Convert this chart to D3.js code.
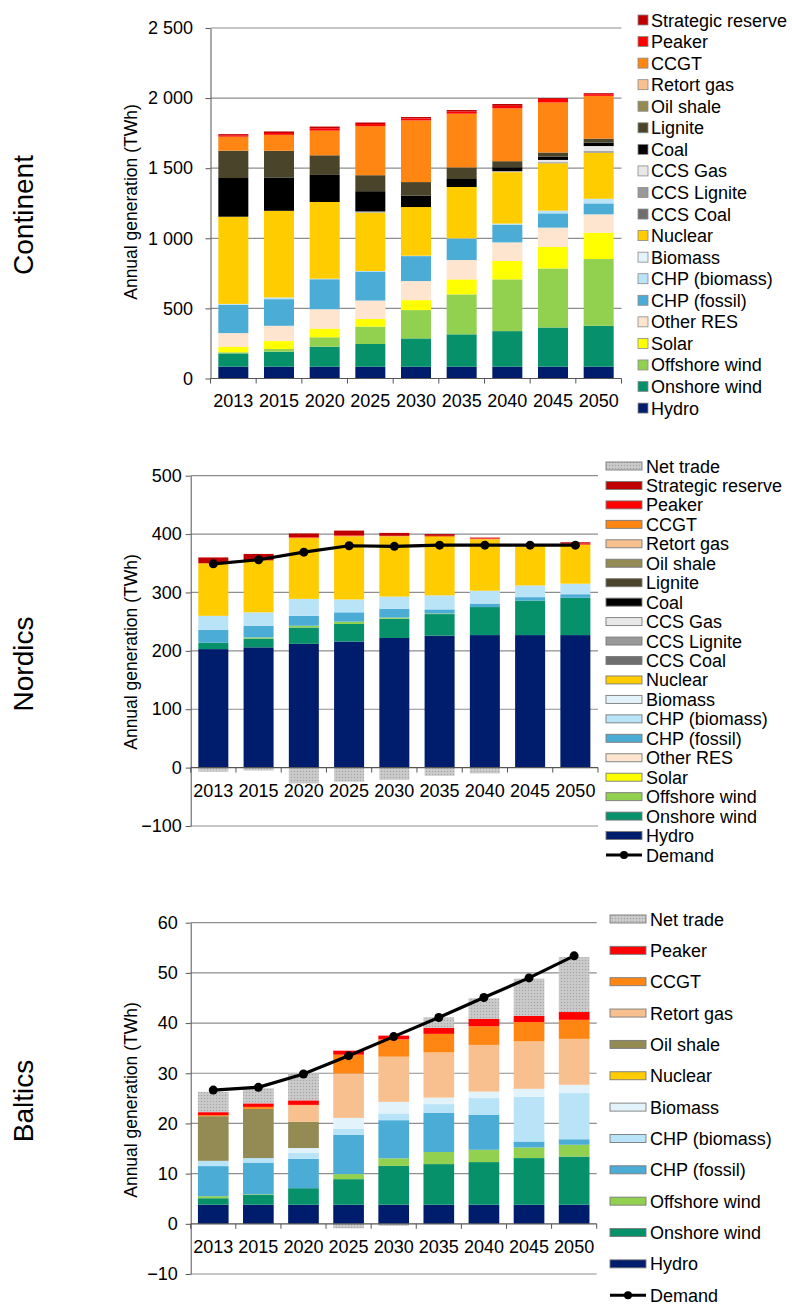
<!DOCTYPE html>
<html><head><meta charset="utf-8">
<script src="https://cdn.jsdelivr.net/npm/d3@7"></script>
<style>
body{margin:0;background:#fff}
svg text{font-family:"Liberation Sans",Arial,sans-serif;fill:#000}
</style></head>
<body><svg id="c" width="792" height="1306"></svg>
<script>
// ---------------- DATA ----------------
const years = ["2013","2015","2020","2025","2030","2035","2040","2045","2050"];

// Continent (TWh)
const contHydro      = [84,84,84,84,84,84,84,84,84];
const contOnshore    = [95,107,143,162,202,231,254,280,292];
const contOffshore   = [8,19,67,124,202,285,369,421,476];
const contSolar      = [40,57,62,55,71,107,131,155,188];
const contOtherRES   = [97,109,138,131,136,138,133,136,131];
const contCHPfossil  = [202,190,214,207,178,152,124,102,78];
const contCHPbiomass = [6,12,4,4,3,3,10,19,33];
const contBiomass    = [0,0,0,0,0,0,0,0,0];
const contNuclear    = [622,618,547,416,347,366,367,338,328];
const contCCSCoal    = [0,0,0,0,0,0,0,0,0];
const contCCSLignite = [0,0,0,4,0,0,0,8,12];
const contCCSGas     = [0,0,0,4,0,0,6,16,36];
const contCoal       = [276,238,193,145,81,57,29,24,24];
const contLignite    = [195,190,140,114,97,83,43,29,29];
const contOilShale   = [0,0,0,0,0,0,0,0,0];
const contRetortGas  = [0,0,0,0,0,0,0,0,0];
const contCCGT       = [100,114,176,350,440,383,377,357,305];
const contPeaker     = [10,13,17,15,14,15,18,25,12];
const contStrategic  = [8,11,12,11,10,11,13,6,7];

// Nordics (TWh)
const nordHydro      = [203,206,212,216,222,226,227,227,227];
const nordOnshore    = [11,15,28,30,33,37,48,59,64];
const nordOffshore   = [0,2,3,4,2,1,0,0,0];
const nordSolar      = [0,0,0,0,0,0,0,0,0];
const nordOtherRES   = [0,0,0,0,0,0,0,0,0];
const nordCHPfossil  = [22,20,17,16,15,7,6,6,6];
const nordCHPbiomass = [24,23,29,22,21,24,22,20,18];
const nordBiomass    = [0,0,0,0,0,0,0,0,0];
const nordNuclear    = [90,89,104,108,103,100,88,67,67];
const nordCCSCoal    = [0,0,0,0,0,0,0,0,0];
const nordCCSLignite = [0,0,0,0,0,0,0,0,0];
const nordCCSGas     = [0,0,0,0,0,0,0,0,0];
const nordCoal       = [0,0,0,0,0,0,0,0,0];
const nordLignite    = [0,0,0,0,0,0,0,0,0];
const nordOilShale   = [0,0,0,0,0,0,0,0,0];
const nordRetortGas  = [0,0,0,0,0,0,0,0,0];
const nordCCGT       = [0,0,1,1,1,2,1,0,0];
const nordPeaker     = [0,0,1,1,0,0,1,0,2];
const nordStrategic  = [10,11,6,8,5,3,1,0,2];
const nordNetTrade   = [-7,-5,-27,-24,-21,-14,-10,0,-1];
const nordDemand     = [349,356,369,380,379,381,381,381,381];

// Baltics (TWh)
const baltHydro      = [3.8,3.8,3.8,3.8,3.8,3.8,3.8,3.8,3.8];
const baltOnshore    = [1.3,2.0,3.3,5.1,7.75,8.1,8.5,9.3,9.6];
const baltOffshore   = [0.4,0.1,0,1.0,1.5,2.4,2.45,2.1,2.35];
const baltCHPfossil  = [6.0,6.3,5.85,7.85,7.6,7.85,7.0,1.2,1.1];
const baltCHPbiomass = [1.05,0.9,1.15,1.15,1.35,1.7,3.3,8.95,9.2];
const baltBiomass    = [0,0,1.0,2.2,2.3,1.3,1.3,1.55,1.65];
const baltNuclear    = [0,0,0,0,0,0,0,0,0];
const baltOilShale   = [8.9,9.8,5.2,0,0,0,0,0,0];
const baltRetortGas  = [0,0,3.3,8.85,9.0,9.0,9.3,9.45,9.15];
const baltCCGT       = [0.2,0.4,0.1,3.75,3.45,3.7,3.7,3.85,3.8];
const baltPeaker     = [0.6,0.7,0.9,0.8,0.75,1.2,1.5,1.25,1.55];
const baltNetTrade   = [4.05,3.0,5.4,-0.9,-0.4,2.1,4.1,7.4,10.95];
const baltDemand     = [26.65,27.2,29.85,33.5,37.3,41.1,45.1,49.0,53.4];

// tick values
const contTicks = [0,500,1000,1500,2000,2500];
const nordTicks = [-100,0,100,200,300,400,500];
const baltTicks = [-10,0,10,20,30,40,50,60];

// ---------------- STYLE ----------------
const colors = {
  "Hydro":"#001C6C","Onshore wind":"#07916A","Offshore wind":"#92D050","Solar":"#FFFF00",
  "Other RES":"#FDE5CF","CHP (fossil)":"#4BACD6","CHP (biomass)":"#B9E3F7","Biomass":"#E3F3FB",
  "Nuclear":"#FFCC00","CCS Coal":"#6E6E6E","CCS Lignite":"#999999","CCS Gas":"#E8E8E8",
  "Coal":"#000000","Lignite":"#4A452A","Oil shale":"#948A54","Retort gas":"#F9C08F",
  "CCGT":"#FF8612","Peaker":"#FF0000","Strategic reserve":"#C00000","Net trade":"url(#hatch)"
};

const svg = d3.select("#c");
const defs = svg.append("defs");
const pat = defs.append("pattern").attr("id","hatch").attr("patternUnits","userSpaceOnUse")
  .attr("width",3).attr("height",3);
pat.append("rect").attr("width",3).attr("height",3).attr("fill","#c6c6c6");
pat.append("rect").attr("width",1).attr("height",1).attr("fill","#a5a5a5");
pat.append("rect").attr("x",1.5).attr("y",1.5).attr("width",1).attr("height",1).attr("fill","#dcdcdc");

const spaceFmt = d3.formatLocale({decimal:",",thousands:"\u00a0",grouping:[3],currency:["",""]}).format(",");

function panel(o){
  const names = o.series.map(s=>s[0]);
  const rows = years.map((yr,i)=>{const r={year:yr}; o.series.forEach(s=>{r[s[0]]=s[1][i];}); return r;});
  const stacked = d3.stack().keys(names).offset(d3.stackOffsetDiverging)(rows);

  const x = d3.scaleBand().domain(years).range([o.x0,o.x1]).paddingInner(o.pad).paddingOuter(o.pad/2);
  const y = d3.scaleLinear().domain([o.ticks[0], o.ticks[o.ticks.length-1]]).range([o.yBottom,o.yTop]);
  const g = svg.append("g");
  const step = x.step();

  // gridlines
  g.append("g").selectAll("line").data(o.ticks.filter(t=>t!==0)).join("line")
    .attr("x1",o.x0).attr("x2",o.x1).attr("y1",d=>y(d)).attr("y2",d=>y(d))
    .attr("stroke","#8e8e8e").attr("stroke-width",1.2);

  // bars
  g.append("g").selectAll("g").data(stacked).join("g")
    .attr("fill",d=>colors[d.key])
    .selectAll("rect").data(d=>d.filter(p=>p[1]!==p[0])).join("rect")
    .attr("x",d=>x(d.data.year)).attr("width",x.bandwidth())
    .attr("y",d=>y(Math.max(d[0],d[1]))).attr("height",d=>Math.abs(y(d[0])-y(d[1])));

  // y axis
  const ya = d3.axisLeft(y).tickValues(o.ticks).tickSize(5).tickSizeOuter(0).tickPadding(o.tickPad).tickFormat(o.fmt);
  const yg = g.append("g").attr("transform",`translate(${o.x0},0)`).call(ya);
  yg.select(".domain").attr("stroke","#555");
  yg.selectAll(".tick line").attr("stroke","#555");
  yg.selectAll("text").attr("font-size",18).attr("font-family",'"Liberation Sans",Arial,sans-serif').attr("fill","#000");

  // x axis line at zero with boundary ticks
  const y0 = y(0);
  g.append("line").attr("x1",o.x0).attr("x2",o.x1).attr("y1",y0).attr("y2",y0).attr("stroke","#555").attr("stroke-width",1.2);
  g.append("g").selectAll("line").data(d3.range(years.length+1)).join("line")
    .attr("x1",i=>o.x0+i*step).attr("x2",i=>o.x0+i*step).attr("y1",y0).attr("y2",y0+5).attr("stroke","#555");
  g.append("g").selectAll("text").data(years).join("text")
    .attr("x",d=>x(d)+x.bandwidth()/2).attr("y",o.xLabelY).attr("text-anchor","middle")
    .attr("font-size",18).text(d=>d);

  // demand line
  if(o.demand){
    const pts = years.map((yr,i)=>[x(yr)+x.bandwidth()/2, y(o.demand[i])]);
    g.append("path").attr("d",d3.line()(pts)).attr("fill","none").attr("stroke","#000").attr("stroke-width",3.2);
    g.append("g").selectAll("circle").data(pts).join("circle")
      .attr("cx",d=>d[0]).attr("cy",d=>d[1]).attr("r",4.5).attr("fill","#000");
  }

  // titles
  g.append("text").attr("transform",`translate(${o.titleX},${o.titleY}) rotate(-90)`)
    .attr("text-anchor","middle").attr("font-size",17.5).text("Annual generation (TWh)");
  g.append("text").attr("transform",`translate(33,${o.regionY}) rotate(-90)`)
    .attr("text-anchor","middle").attr("font-size",28).text(o.region);

  // legend
  const lg = g.append("g");
  o.legend.forEach((name,i)=>{
    const cy = o.legY0 + i*o.legStep;
    if(o.legStyle==="square"){
      lg.append("rect").attr("x",o.legX).attr("y",cy-5).attr("width",10).attr("height",10)
        .attr("fill",colors[name]).attr("stroke","#8a8a8a").attr("stroke-width",0.8);
      lg.append("text").attr("x",o.legX+13).attr("y",cy+6.5).attr("font-size",18).text(name);
    } else if(name==="Demand"){
      lg.append("line").attr("x1",o.legX).attr("x2",o.legX+36).attr("y1",cy).attr("y2",cy).attr("stroke","#000").attr("stroke-width",3);
      lg.append("circle").attr("cx",o.legX+18).attr("cy",cy).attr("r",4).attr("fill","#000");
      lg.append("text").attr("x",o.legX+40).attr("y",cy+6.5).attr("font-size",18).text(name);
    } else {
      lg.append("rect").attr("x",o.legX).attr("y",cy-4).attr("width",36).attr("height",8)
        .attr("fill",colors[name]).attr("stroke","#7a7a7a").attr("stroke-width",0.9);
      lg.append("text").attr("x",o.legX+40).attr("y",cy+6.5).attr("font-size",18).text(name);
    }
  });
}

panel({
  region:"Continent", regionY:215, titleX:137, titleY:202,
  x0:210.5, x1:621.5, pad:0.343, yBottom:378.5, yTop:28, ticks:contTicks, fmt:spaceFmt, tickPad:12.5,
  xLabelY:406.5,
  series:[["Hydro",contHydro],["Onshore wind",contOnshore],["Offshore wind",contOffshore],["Solar",contSolar],
    ["Other RES",contOtherRES],["CHP (fossil)",contCHPfossil],["CHP (biomass)",contCHPbiomass],["Biomass",contBiomass],
    ["Nuclear",contNuclear],["CCS Coal",contCCSCoal],["CCS Lignite",contCCSLignite],["CCS Gas",contCCSGas],
    ["Coal",contCoal],["Lignite",contLignite],["Oil shale",contOilShale],["Retort gas",contRetortGas],
    ["CCGT",contCCGT],["Peaker",contPeaker],["Strategic reserve",contStrategic]],
  legend:["Strategic reserve","Peaker","CCGT","Retort gas","Oil shale","Lignite","Coal","CCS Gas","CCS Lignite",
    "CCS Coal","Nuclear","Biomass","CHP (biomass)","CHP (fossil)","Other RES","Solar","Offshore wind","Onshore wind","Hydro"],
  legStyle:"square", legX:638, legY0:20, legStep:21.56
});

panel({
  region:"Nordics", regionY:664, titleX:137, titleY:652,
  x0:190.7, x1:598, pad:0.337, yBottom:826, yTop:475.7, ticks:nordTicks, fmt:d3.format("d"), tickPad:4,
  xLabelY:796.5, demand:nordDemand,
  series:[["Hydro",nordHydro],["Onshore wind",nordOnshore],["Offshore wind",nordOffshore],["Solar",nordSolar],
    ["Other RES",nordOtherRES],["CHP (fossil)",nordCHPfossil],["CHP (biomass)",nordCHPbiomass],["Biomass",nordBiomass],
    ["Nuclear",nordNuclear],["CCS Coal",nordCCSCoal],["CCS Lignite",nordCCSLignite],["CCS Gas",nordCCSGas],
    ["Coal",nordCoal],["Lignite",nordLignite],["Oil shale",nordOilShale],["Retort gas",nordRetortGas],
    ["CCGT",nordCCGT],["Peaker",nordPeaker],["Strategic reserve",nordStrategic],["Net trade",nordNetTrade]],
  legend:["Net trade","Strategic reserve","Peaker","CCGT","Retort gas","Oil shale","Lignite","Coal","CCS Gas","CCS Lignite",
    "CCS Coal","Nuclear","Biomass","CHP (biomass)","CHP (fossil)","Other RES","Solar","Offshore wind","Onshore wind","Hydro","Demand"],
  legStyle:"line", legX:606, legY0:466, legStep:19.45
});

panel({
  region:"Baltics", regionY:1101, titleX:137, titleY:1100,
  x0:190.7, x1:596.7, pad:0.32, yBottom:1274, yTop:922.7, ticks:baltTicks, fmt:d3.format("d"), tickPad:8,
  xLabelY:1252.5, demand:baltDemand,
  series:[["Hydro",baltHydro],["Onshore wind",baltOnshore],["Offshore wind",baltOffshore],["CHP (fossil)",baltCHPfossil],
    ["CHP (biomass)",baltCHPbiomass],["Biomass",baltBiomass],["Nuclear",baltNuclear],["Oil shale",baltOilShale],
    ["Retort gas",baltRetortGas],["CCGT",baltCCGT],["Peaker",baltPeaker],["Net trade",baltNetTrade]],
  legend:["Net trade","Peaker","CCGT","Retort gas","Oil shale","Nuclear","Biomass","CHP (biomass)","CHP (fossil)",
    "Offshore wind","Onshore wind","Hydro","Demand"],
  legStyle:"line", legX:610, legY0:919, legStep:31.35
});
</script>
</body></html>
